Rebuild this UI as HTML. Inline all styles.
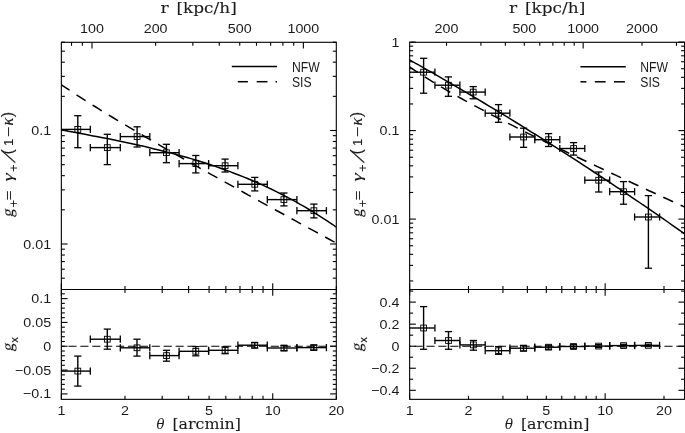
<!DOCTYPE html>
<html><head><meta charset="utf-8"><title>plot</title>
<style>html,body{margin:0;padding:0;background:#fff}svg{display:block}text{stroke:none}text.yl{stroke:#000;stroke-width:0.12px}text.tt{stroke:#000;stroke-width:0.1px}</style></head>
<body>
<svg width="685" height="433" viewBox="0 0 685 433" stroke="#000" fill="#000" font-family="'Liberation Sans', sans-serif">
<rect width="685" height="433" fill="#fff" stroke="none"/>
<g stroke="none" opacity="0.9">
<text transform="translate(61.35,415.40) scale(1.1,1)" text-anchor="middle" font-size="13">1</text>
<text transform="translate(124.98,415.40) scale(1.1,1)" text-anchor="middle" font-size="13">2</text>
<text transform="translate(209.09,415.40) scale(1.1,1)" text-anchor="middle" font-size="13">5</text>
<text transform="translate(272.72,415.40) scale(1.1,1)" text-anchor="middle" font-size="13">10</text>
<text transform="translate(336.35,415.40) scale(1.1,1)" text-anchor="middle" font-size="13">20</text>
<text transform="translate(92.00,33.20) scale(1.1,1)" text-anchor="middle" font-size="13">100</text>
<text transform="translate(155.63,33.20) scale(1.1,1)" text-anchor="middle" font-size="13">200</text>
<text transform="translate(239.74,33.20) scale(1.1,1)" text-anchor="middle" font-size="13">500</text>
<text transform="translate(303.37,33.20) scale(1.1,1)" text-anchor="middle" font-size="13">1000</text>
<text transform="translate(51.15,135.00) scale(1.1,1)" text-anchor="end" font-size="13">0.1</text>
<text transform="translate(51.15,248.50) scale(1.1,1)" text-anchor="end" font-size="13">0.01</text>
<text transform="translate(51.15,303.10) scale(1.1,1)" text-anchor="end" font-size="13">0.1</text>
<text transform="translate(51.15,326.93) scale(1.1,1)" text-anchor="end" font-size="13">0.05</text>
<text transform="translate(51.15,350.75) scale(1.1,1)" text-anchor="end" font-size="13">0</text>
<text transform="translate(51.15,374.57) scale(1.1,1)" text-anchor="end" font-size="13">−0.05</text>
<text transform="translate(51.15,398.40) scale(1.1,1)" text-anchor="end" font-size="13">−0.1</text>
<text transform="translate(409.65,415.40) scale(1.1,1)" text-anchor="middle" font-size="13">1</text>
<text transform="translate(468.50,415.40) scale(1.1,1)" text-anchor="middle" font-size="13">2</text>
<text transform="translate(546.30,415.40) scale(1.1,1)" text-anchor="middle" font-size="13">5</text>
<text transform="translate(605.15,415.40) scale(1.1,1)" text-anchor="middle" font-size="13">10</text>
<text transform="translate(664.00,415.40) scale(1.1,1)" text-anchor="middle" font-size="13">20</text>
<text transform="translate(446.50,33.20) scale(1.1,1)" text-anchor="middle" font-size="13">200</text>
<text transform="translate(524.30,33.20) scale(1.1,1)" text-anchor="middle" font-size="13">500</text>
<text transform="translate(583.15,33.20) scale(1.1,1)" text-anchor="middle" font-size="13">1000</text>
<text transform="translate(642.00,33.20) scale(1.1,1)" text-anchor="middle" font-size="13">2000</text>
<text transform="translate(399.45,46.60) scale(1.1,1)" text-anchor="end" font-size="13">1</text>
<text transform="translate(399.45,135.10) scale(1.1,1)" text-anchor="end" font-size="13">0.1</text>
<text transform="translate(399.45,223.60) scale(1.1,1)" text-anchor="end" font-size="13">0.01</text>
<text transform="translate(399.45,306.60) scale(1.1,1)" text-anchor="end" font-size="13">0.4</text>
<text transform="translate(399.45,328.65) scale(1.1,1)" text-anchor="end" font-size="13">0.2</text>
<text transform="translate(399.45,350.70) scale(1.1,1)" text-anchor="end" font-size="13">0</text>
<text transform="translate(399.45,372.75) scale(1.1,1)" text-anchor="end" font-size="13">−0.2</text>
<text transform="translate(399.45,394.80) scale(1.1,1)" text-anchor="end" font-size="13">−0.4</text>
<text transform="translate(292.00,72.10) scale(0.87,1)" text-anchor="start" font-size="14" >NFW</text>
<text transform="translate(292.00,86.80) scale(0.87,1)" text-anchor="start" font-size="14" >SIS</text>
<text transform="translate(640.30,72.10) scale(0.87,1)" text-anchor="start" font-size="14" >NFW</text>
<text transform="translate(640.30,86.90) scale(0.87,1)" text-anchor="start" font-size="14" >SIS</text>
<text class="tt" x="160.60" y="13.10" font-size="14.5" textLength="8.20" lengthAdjust="spacingAndGlyphs" font-family="'DejaVu Serif', serif">r</text>
<text class="tt" x="176.40" y="13.10" font-size="14.5" textLength="60.40" lengthAdjust="spacingAndGlyphs" font-family="'DejaVu Serif', serif">[kpc/h]</text>
<text class="tt" x="156.60" y="429.20" font-size="14.5" textLength="8.00" lengthAdjust="spacingAndGlyphs" font-family="'DejaVu Serif', serif" font-style="italic">θ</text>
<text class="tt" x="172.40" y="429.20" font-size="14.5" textLength="68.60" lengthAdjust="spacingAndGlyphs" font-family="'DejaVu Serif', serif">[arcmin]</text>
<text class="tt" x="509.10" y="13.10" font-size="14.5" textLength="8.20" lengthAdjust="spacingAndGlyphs" font-family="'DejaVu Serif', serif">r</text>
<text class="tt" x="524.90" y="13.10" font-size="14.5" textLength="60.40" lengthAdjust="spacingAndGlyphs" font-family="'DejaVu Serif', serif">[kpc/h]</text>
<text class="tt" x="505.10" y="429.20" font-size="14.5" textLength="8.00" lengthAdjust="spacingAndGlyphs" font-family="'DejaVu Serif', serif" font-style="italic">θ</text>
<text class="tt" x="520.90" y="429.20" font-size="14.5" textLength="68.60" lengthAdjust="spacingAndGlyphs" font-family="'DejaVu Serif', serif">[arcmin]</text>
<text class="yl" transform="translate(13.20,217.20) rotate(-90) skewX(-9) scale(1,1)" font-size="16" font-family="'Liberation Serif', serif">g</text>
<text class="yl" transform="translate(18.40,207.20) rotate(-90) scale(1,1)" font-size="12.5" >+</text>
<text class="yl" transform="translate(13.20,200.20) rotate(-90) scale(1.3,1)" font-size="13" >=</text>
<text class="yl" transform="translate(13.20,181.60) rotate(-90) scale(1.35,1)" font-size="15.5" font-family="'Liberation Serif', serif" font-style="italic">γ</text>
<text class="yl" transform="translate(18.40,171.80) rotate(-90) scale(1,1)" font-size="12.5" >+</text>
<text class="yl" transform="translate(15.00,163.20) rotate(-90) skewX(-30) scale(1.15,1)" font-size="17" >/</text>
<text class="yl" transform="translate(12.90,154.60) rotate(-90) scale(1,1)" font-size="16" >(</text>
<text class="yl" transform="translate(13.20,146.00) rotate(-90) scale(1,1)" font-size="13" >1</text>
<text class="yl" transform="translate(13.20,137.00) rotate(-90) scale(1.4,1)" font-size="13" >−</text>
<text class="yl" transform="translate(13.20,125.40) rotate(-90) scale(1,1)" font-size="16.5" font-family="'Liberation Serif', serif" font-style="italic">κ</text>
<text class="yl" transform="translate(12.90,117.20) rotate(-90) scale(1,1)" font-size="16" >)</text>
<text class="yl" transform="translate(13.20,351.40) rotate(-90) skewX(-9) scale(1,1)" font-size="16" font-family="'Liberation Serif', serif">g</text>
<text class="yl" transform="translate(18.20,342.40) rotate(-90) scale(1,1)" font-size="10.5" >x</text>
<text class="yl" transform="translate(361.80,217.20) rotate(-90) skewX(-9) scale(1,1)" font-size="16" font-family="'Liberation Serif', serif">g</text>
<text class="yl" transform="translate(367.00,207.20) rotate(-90) scale(1,1)" font-size="12.5" >+</text>
<text class="yl" transform="translate(361.80,200.20) rotate(-90) scale(1.3,1)" font-size="13" >=</text>
<text class="yl" transform="translate(361.80,181.60) rotate(-90) scale(1.35,1)" font-size="15.5" font-family="'Liberation Serif', serif" font-style="italic">γ</text>
<text class="yl" transform="translate(367.00,171.80) rotate(-90) scale(1,1)" font-size="12.5" >+</text>
<text class="yl" transform="translate(363.60,163.20) rotate(-90) skewX(-30) scale(1.15,1)" font-size="17" >/</text>
<text class="yl" transform="translate(361.50,154.60) rotate(-90) scale(1,1)" font-size="16" >(</text>
<text class="yl" transform="translate(361.80,146.00) rotate(-90) scale(1,1)" font-size="13" >1</text>
<text class="yl" transform="translate(361.80,137.00) rotate(-90) scale(1.4,1)" font-size="13" >−</text>
<text class="yl" transform="translate(361.80,125.40) rotate(-90) scale(1,1)" font-size="16.5" font-family="'Liberation Serif', serif" font-style="italic">κ</text>
<text class="yl" transform="translate(361.50,117.20) rotate(-90) scale(1,1)" font-size="16" >)</text>
<text class="yl" transform="translate(361.80,351.40) rotate(-90) skewX(-9) scale(1,1)" font-size="16" font-family="'Liberation Serif', serif">g</text>
<text class="yl" transform="translate(366.80,342.40) rotate(-90) scale(1,1)" font-size="10.5" >x</text>
</g>
<g id="left">
<rect x="61.35" y="42.3" width="274.95" height="357.05" fill="none" stroke-width="1.1"/>
<line x1="61.35" y1="289.50" x2="336.30" y2="289.50" stroke-width="1.1" />
<line x1="61.35" y1="399.35" x2="61.35" y2="393.15" stroke-width="1.1" />
<line x1="61.35" y1="283.30" x2="61.35" y2="295.70" stroke-width="1.1" />
<line x1="124.98" y1="399.35" x2="124.98" y2="395.85" stroke-width="1.1" />
<line x1="124.98" y1="286.00" x2="124.98" y2="293.00" stroke-width="1.1" />
<line x1="162.20" y1="399.35" x2="162.20" y2="395.85" stroke-width="1.1" />
<line x1="162.20" y1="286.00" x2="162.20" y2="293.00" stroke-width="1.1" />
<line x1="188.61" y1="399.35" x2="188.61" y2="395.85" stroke-width="1.1" />
<line x1="188.61" y1="286.00" x2="188.61" y2="293.00" stroke-width="1.1" />
<line x1="209.09" y1="399.35" x2="209.09" y2="395.85" stroke-width="1.1" />
<line x1="209.09" y1="286.00" x2="209.09" y2="293.00" stroke-width="1.1" />
<line x1="225.83" y1="399.35" x2="225.83" y2="395.85" stroke-width="1.1" />
<line x1="225.83" y1="286.00" x2="225.83" y2="293.00" stroke-width="1.1" />
<line x1="239.98" y1="399.35" x2="239.98" y2="395.85" stroke-width="1.1" />
<line x1="239.98" y1="286.00" x2="239.98" y2="293.00" stroke-width="1.1" />
<line x1="252.24" y1="399.35" x2="252.24" y2="395.85" stroke-width="1.1" />
<line x1="252.24" y1="286.00" x2="252.24" y2="293.00" stroke-width="1.1" />
<line x1="263.05" y1="399.35" x2="263.05" y2="395.85" stroke-width="1.1" />
<line x1="263.05" y1="286.00" x2="263.05" y2="293.00" stroke-width="1.1" />
<line x1="272.72" y1="399.35" x2="272.72" y2="393.15" stroke-width="1.1" />
<line x1="272.72" y1="283.30" x2="272.72" y2="295.70" stroke-width="1.1" />
<line x1="336.35" y1="399.35" x2="336.35" y2="395.85" stroke-width="1.1" />
<line x1="336.35" y1="286.00" x2="336.35" y2="293.00" stroke-width="1.1" />
<line x1="71.52" y1="42.30" x2="71.52" y2="45.80" stroke-width="1.1" />
<line x1="82.33" y1="42.30" x2="82.33" y2="45.80" stroke-width="1.1" />
<line x1="92.00" y1="42.30" x2="92.00" y2="48.50" stroke-width="1.1" />
<line x1="155.63" y1="42.30" x2="155.63" y2="45.80" stroke-width="1.1" />
<line x1="192.85" y1="42.30" x2="192.85" y2="45.80" stroke-width="1.1" />
<line x1="219.26" y1="42.30" x2="219.26" y2="45.80" stroke-width="1.1" />
<line x1="239.74" y1="42.30" x2="239.74" y2="45.80" stroke-width="1.1" />
<line x1="256.48" y1="42.30" x2="256.48" y2="45.80" stroke-width="1.1" />
<line x1="270.63" y1="42.30" x2="270.63" y2="45.80" stroke-width="1.1" />
<line x1="282.89" y1="42.30" x2="282.89" y2="45.80" stroke-width="1.1" />
<line x1="293.70" y1="42.30" x2="293.70" y2="45.80" stroke-width="1.1" />
<line x1="303.37" y1="42.30" x2="303.37" y2="48.50" stroke-width="1.1" />
<line x1="61.35" y1="278.17" x2="64.85" y2="278.17" stroke-width="1.1" />
<line x1="336.30" y1="278.17" x2="332.80" y2="278.17" stroke-width="1.1" />
<line x1="61.35" y1="269.18" x2="64.85" y2="269.18" stroke-width="1.1" />
<line x1="336.30" y1="269.18" x2="332.80" y2="269.18" stroke-width="1.1" />
<line x1="61.35" y1="261.58" x2="64.85" y2="261.58" stroke-width="1.1" />
<line x1="336.30" y1="261.58" x2="332.80" y2="261.58" stroke-width="1.1" />
<line x1="61.35" y1="255.00" x2="64.85" y2="255.00" stroke-width="1.1" />
<line x1="336.30" y1="255.00" x2="332.80" y2="255.00" stroke-width="1.1" />
<line x1="61.35" y1="249.19" x2="64.85" y2="249.19" stroke-width="1.1" />
<line x1="336.30" y1="249.19" x2="332.80" y2="249.19" stroke-width="1.1" />
<line x1="61.35" y1="244.00" x2="67.55" y2="244.00" stroke-width="1.1" />
<line x1="336.30" y1="244.00" x2="330.10" y2="244.00" stroke-width="1.1" />
<line x1="61.35" y1="209.83" x2="64.85" y2="209.83" stroke-width="1.1" />
<line x1="336.30" y1="209.83" x2="332.80" y2="209.83" stroke-width="1.1" />
<line x1="61.35" y1="189.85" x2="64.85" y2="189.85" stroke-width="1.1" />
<line x1="336.30" y1="189.85" x2="332.80" y2="189.85" stroke-width="1.1" />
<line x1="61.35" y1="175.67" x2="64.85" y2="175.67" stroke-width="1.1" />
<line x1="336.30" y1="175.67" x2="332.80" y2="175.67" stroke-width="1.1" />
<line x1="61.35" y1="164.67" x2="64.85" y2="164.67" stroke-width="1.1" />
<line x1="336.30" y1="164.67" x2="332.80" y2="164.67" stroke-width="1.1" />
<line x1="61.35" y1="155.68" x2="64.85" y2="155.68" stroke-width="1.1" />
<line x1="336.30" y1="155.68" x2="332.80" y2="155.68" stroke-width="1.1" />
<line x1="61.35" y1="148.08" x2="64.85" y2="148.08" stroke-width="1.1" />
<line x1="336.30" y1="148.08" x2="332.80" y2="148.08" stroke-width="1.1" />
<line x1="61.35" y1="141.50" x2="64.85" y2="141.50" stroke-width="1.1" />
<line x1="336.30" y1="141.50" x2="332.80" y2="141.50" stroke-width="1.1" />
<line x1="61.35" y1="135.69" x2="64.85" y2="135.69" stroke-width="1.1" />
<line x1="336.30" y1="135.69" x2="332.80" y2="135.69" stroke-width="1.1" />
<line x1="61.35" y1="130.50" x2="67.55" y2="130.50" stroke-width="1.1" />
<line x1="336.30" y1="130.50" x2="330.10" y2="130.50" stroke-width="1.1" />
<line x1="61.35" y1="96.33" x2="64.85" y2="96.33" stroke-width="1.1" />
<line x1="336.30" y1="96.33" x2="332.80" y2="96.33" stroke-width="1.1" />
<line x1="61.35" y1="76.35" x2="64.85" y2="76.35" stroke-width="1.1" />
<line x1="336.30" y1="76.35" x2="332.80" y2="76.35" stroke-width="1.1" />
<line x1="61.35" y1="62.17" x2="64.85" y2="62.17" stroke-width="1.1" />
<line x1="336.30" y1="62.17" x2="332.80" y2="62.17" stroke-width="1.1" />
<line x1="61.35" y1="51.17" x2="64.85" y2="51.17" stroke-width="1.1" />
<line x1="336.30" y1="51.17" x2="332.80" y2="51.17" stroke-width="1.1" />
<line x1="61.35" y1="42.18" x2="64.85" y2="42.18" stroke-width="1.1" />
<line x1="336.30" y1="42.18" x2="332.80" y2="42.18" stroke-width="1.1" />
<line x1="61.35" y1="393.90" x2="67.55" y2="393.90" stroke-width="1.1" />
<line x1="336.30" y1="393.90" x2="330.10" y2="393.90" stroke-width="1.1" />
<line x1="61.35" y1="389.13" x2="64.85" y2="389.13" stroke-width="1.1" />
<line x1="336.30" y1="389.13" x2="332.80" y2="389.13" stroke-width="1.1" />
<line x1="61.35" y1="384.37" x2="64.85" y2="384.37" stroke-width="1.1" />
<line x1="336.30" y1="384.37" x2="332.80" y2="384.37" stroke-width="1.1" />
<line x1="61.35" y1="379.61" x2="64.85" y2="379.61" stroke-width="1.1" />
<line x1="336.30" y1="379.61" x2="332.80" y2="379.61" stroke-width="1.1" />
<line x1="61.35" y1="374.84" x2="64.85" y2="374.84" stroke-width="1.1" />
<line x1="336.30" y1="374.84" x2="332.80" y2="374.84" stroke-width="1.1" />
<line x1="61.35" y1="370.07" x2="67.55" y2="370.07" stroke-width="1.1" />
<line x1="336.30" y1="370.07" x2="330.10" y2="370.07" stroke-width="1.1" />
<line x1="61.35" y1="365.31" x2="64.85" y2="365.31" stroke-width="1.1" />
<line x1="336.30" y1="365.31" x2="332.80" y2="365.31" stroke-width="1.1" />
<line x1="61.35" y1="360.55" x2="64.85" y2="360.55" stroke-width="1.1" />
<line x1="336.30" y1="360.55" x2="332.80" y2="360.55" stroke-width="1.1" />
<line x1="61.35" y1="355.78" x2="64.85" y2="355.78" stroke-width="1.1" />
<line x1="336.30" y1="355.78" x2="332.80" y2="355.78" stroke-width="1.1" />
<line x1="61.35" y1="351.01" x2="64.85" y2="351.01" stroke-width="1.1" />
<line x1="336.30" y1="351.01" x2="332.80" y2="351.01" stroke-width="1.1" />
<line x1="61.35" y1="346.25" x2="67.55" y2="346.25" stroke-width="1.1" />
<line x1="336.30" y1="346.25" x2="330.10" y2="346.25" stroke-width="1.1" />
<line x1="61.35" y1="341.49" x2="64.85" y2="341.49" stroke-width="1.1" />
<line x1="336.30" y1="341.49" x2="332.80" y2="341.49" stroke-width="1.1" />
<line x1="61.35" y1="336.72" x2="64.85" y2="336.72" stroke-width="1.1" />
<line x1="336.30" y1="336.72" x2="332.80" y2="336.72" stroke-width="1.1" />
<line x1="61.35" y1="331.95" x2="64.85" y2="331.95" stroke-width="1.1" />
<line x1="336.30" y1="331.95" x2="332.80" y2="331.95" stroke-width="1.1" />
<line x1="61.35" y1="327.19" x2="64.85" y2="327.19" stroke-width="1.1" />
<line x1="336.30" y1="327.19" x2="332.80" y2="327.19" stroke-width="1.1" />
<line x1="61.35" y1="322.43" x2="67.55" y2="322.43" stroke-width="1.1" />
<line x1="336.30" y1="322.43" x2="330.10" y2="322.43" stroke-width="1.1" />
<line x1="61.35" y1="317.66" x2="64.85" y2="317.66" stroke-width="1.1" />
<line x1="336.30" y1="317.66" x2="332.80" y2="317.66" stroke-width="1.1" />
<line x1="61.35" y1="312.89" x2="64.85" y2="312.89" stroke-width="1.1" />
<line x1="336.30" y1="312.89" x2="332.80" y2="312.89" stroke-width="1.1" />
<line x1="61.35" y1="308.13" x2="64.85" y2="308.13" stroke-width="1.1" />
<line x1="336.30" y1="308.13" x2="332.80" y2="308.13" stroke-width="1.1" />
<line x1="61.35" y1="303.37" x2="64.85" y2="303.37" stroke-width="1.1" />
<line x1="336.30" y1="303.37" x2="332.80" y2="303.37" stroke-width="1.1" />
<line x1="61.35" y1="298.60" x2="67.55" y2="298.60" stroke-width="1.1" />
<line x1="336.30" y1="298.60" x2="330.10" y2="298.60" stroke-width="1.1" />
<line x1="61.35" y1="293.83" x2="64.85" y2="293.83" stroke-width="1.1" />
<line x1="336.30" y1="293.83" x2="332.80" y2="293.83" stroke-width="1.1" />
</g>
<clipPath id="cl"><rect x="61.35" y="42.3" width="274.95" height="357.05"/></clipPath>
<g clip-path="url(#cl)" fill="none">
<polyline stroke-width="1.5" points="60.4,129.7 65.0,130.6 69.7,131.4 74.4,132.3 79.1,133.2 83.8,134.1 88.5,135.0 93.2,135.9 97.9,136.8 102.6,137.7 107.3,138.6 112.0,139.6 116.7,140.5 121.4,141.5 126.1,142.5 130.8,143.5 135.5,144.5 140.1,145.6 144.8,146.6 149.5,147.7 154.2,148.9 158.9,150.0 163.6,151.2 168.3,152.4 173.0,153.6 177.7,154.9 182.4,156.2 187.1,157.5 191.8,158.9 196.5,160.3 201.2,161.8 205.9,163.3 210.6,164.8 215.3,166.4 219.9,168.0 224.6,169.7 229.3,171.4 234.0,173.2 238.7,175.0 243.4,176.9 248.1,178.8 252.8,180.8 257.5,182.8 262.2,184.9 266.9,187.1 271.6,189.3 276.3,191.6 281.0,194.0 285.7,196.4 290.4,198.9 295.1,201.4 299.7,204.1 304.4,206.7 309.1,209.5 313.8,212.4 318.5,215.3 323.2,218.3 327.9,221.4 332.6,224.5 337.3,227.8"/>
<polyline stroke-width="1.5" stroke-dasharray="10.8 8.3" stroke-dashoffset="1" points="61.4,84.8 66.0,87.9 70.7,91.0 75.4,94.1 80.1,97.1 84.7,100.1 89.4,103.1 94.1,106.0 98.8,108.9 103.4,111.8 108.1,114.7 112.8,117.5 117.5,120.3 122.2,123.2 126.8,125.9 131.5,128.7 136.2,131.5 140.9,134.2 145.5,137.0 150.2,139.7 154.9,142.4 159.6,145.1 164.2,147.8 168.9,150.5 173.6,153.2 178.3,155.8 183.0,158.5 187.6,161.1 192.3,163.8 197.0,166.4 201.7,169.1 206.3,171.7 211.0,174.3 215.7,176.9 220.4,179.5 225.0,182.1 229.7,184.7 234.4,187.3 239.1,189.9 243.8,192.5 248.4,195.1 253.1,197.6 257.8,200.2 262.5,202.8 267.1,205.4 271.8,207.9 276.5,210.5 281.2,213.0 285.9,215.6 290.5,218.2 295.2,220.7 299.9,223.3 304.6,225.8 309.2,228.4 313.9,230.9 318.6,233.4 323.3,236.0 327.9,238.5 332.6,241.1 337.3,243.6"/>
<line x1="61.35" y1="346.3" x2="336.3" y2="346.3" stroke-width="1.1" stroke-dasharray="8.1 3.8" stroke-dashoffset="4.8"/>
</g>
<line x1="61.35" y1="129.40" x2="90.30" y2="129.40" stroke-width="1.4" />
<line x1="90.30" y1="125.80" x2="90.30" y2="133.00" stroke-width="1.3" />
<line x1="77.80" y1="115.70" x2="77.80" y2="147.70" stroke-width="1.4" />
<line x1="74.20" y1="115.70" x2="81.40" y2="115.70" stroke-width="1.3" />
<line x1="74.20" y1="147.70" x2="81.40" y2="147.70" stroke-width="1.3" />
<rect x="74.90" y="126.50" width="5.8" height="5.8" fill="none" stroke-width="0.9"/>
<line x1="90.30" y1="147.60" x2="120.30" y2="147.60" stroke-width="1.4" />
<line x1="90.30" y1="144.00" x2="90.30" y2="151.20" stroke-width="1.3" />
<line x1="120.30" y1="144.00" x2="120.30" y2="151.20" stroke-width="1.3" />
<line x1="107.30" y1="134.30" x2="107.30" y2="164.60" stroke-width="1.4" />
<line x1="103.70" y1="134.30" x2="110.90" y2="134.30" stroke-width="1.3" />
<line x1="103.70" y1="164.60" x2="110.90" y2="164.60" stroke-width="1.3" />
<rect x="104.40" y="144.70" width="5.8" height="5.8" fill="none" stroke-width="0.9"/>
<line x1="120.30" y1="136.60" x2="149.80" y2="136.60" stroke-width="1.4" />
<line x1="120.30" y1="133.00" x2="120.30" y2="140.20" stroke-width="1.3" />
<line x1="149.80" y1="133.00" x2="149.80" y2="140.20" stroke-width="1.3" />
<line x1="137.10" y1="126.80" x2="137.10" y2="147.00" stroke-width="1.4" />
<line x1="133.50" y1="126.80" x2="140.70" y2="126.80" stroke-width="1.3" />
<line x1="133.50" y1="147.00" x2="140.70" y2="147.00" stroke-width="1.3" />
<rect x="134.20" y="133.70" width="5.8" height="5.8" fill="none" stroke-width="0.9"/>
<line x1="149.80" y1="152.70" x2="179.10" y2="152.70" stroke-width="1.4" />
<line x1="149.80" y1="149.10" x2="149.80" y2="156.30" stroke-width="1.3" />
<line x1="179.10" y1="149.10" x2="179.10" y2="156.30" stroke-width="1.3" />
<line x1="166.40" y1="144.30" x2="166.40" y2="162.70" stroke-width="1.4" />
<line x1="162.80" y1="144.30" x2="170.00" y2="144.30" stroke-width="1.3" />
<line x1="162.80" y1="162.70" x2="170.00" y2="162.70" stroke-width="1.3" />
<rect x="163.50" y="149.80" width="5.8" height="5.8" fill="none" stroke-width="0.9"/>
<line x1="179.10" y1="163.60" x2="208.60" y2="163.60" stroke-width="1.4" />
<line x1="179.10" y1="160.00" x2="179.10" y2="167.20" stroke-width="1.3" />
<line x1="208.60" y1="160.00" x2="208.60" y2="167.20" stroke-width="1.3" />
<line x1="195.80" y1="155.50" x2="195.80" y2="172.90" stroke-width="1.4" />
<line x1="192.20" y1="155.50" x2="199.40" y2="155.50" stroke-width="1.3" />
<line x1="192.20" y1="172.90" x2="199.40" y2="172.90" stroke-width="1.3" />
<rect x="192.90" y="160.70" width="5.8" height="5.8" fill="none" stroke-width="0.9"/>
<line x1="208.60" y1="165.70" x2="237.90" y2="165.70" stroke-width="1.4" />
<line x1="208.60" y1="162.10" x2="208.60" y2="169.30" stroke-width="1.3" />
<line x1="237.90" y1="162.10" x2="237.90" y2="169.30" stroke-width="1.3" />
<line x1="225.10" y1="159.10" x2="225.10" y2="172.00" stroke-width="1.4" />
<line x1="221.50" y1="159.10" x2="228.70" y2="159.10" stroke-width="1.3" />
<line x1="221.50" y1="172.00" x2="228.70" y2="172.00" stroke-width="1.3" />
<rect x="222.20" y="162.80" width="5.8" height="5.8" fill="none" stroke-width="0.9"/>
<line x1="237.90" y1="184.30" x2="267.30" y2="184.30" stroke-width="1.4" />
<line x1="237.90" y1="180.70" x2="237.90" y2="187.90" stroke-width="1.3" />
<line x1="267.30" y1="180.70" x2="267.30" y2="187.90" stroke-width="1.3" />
<line x1="254.80" y1="177.40" x2="254.80" y2="190.90" stroke-width="1.4" />
<line x1="251.20" y1="177.40" x2="258.40" y2="177.40" stroke-width="1.3" />
<line x1="251.20" y1="190.90" x2="258.40" y2="190.90" stroke-width="1.3" />
<rect x="251.90" y="181.40" width="5.8" height="5.8" fill="none" stroke-width="0.9"/>
<line x1="267.30" y1="199.60" x2="296.90" y2="199.60" stroke-width="1.4" />
<line x1="267.30" y1="196.00" x2="267.30" y2="203.20" stroke-width="1.3" />
<line x1="296.90" y1="196.00" x2="296.90" y2="203.20" stroke-width="1.3" />
<line x1="283.90" y1="193.00" x2="283.90" y2="205.90" stroke-width="1.4" />
<line x1="280.30" y1="193.00" x2="287.50" y2="193.00" stroke-width="1.3" />
<line x1="280.30" y1="205.90" x2="287.50" y2="205.90" stroke-width="1.3" />
<rect x="281.00" y="196.70" width="5.8" height="5.8" fill="none" stroke-width="0.9"/>
<line x1="296.90" y1="210.70" x2="326.40" y2="210.70" stroke-width="1.4" />
<line x1="296.90" y1="207.10" x2="296.90" y2="214.30" stroke-width="1.3" />
<line x1="326.40" y1="207.10" x2="326.40" y2="214.30" stroke-width="1.3" />
<line x1="313.90" y1="204.10" x2="313.90" y2="217.90" stroke-width="1.4" />
<line x1="310.30" y1="204.10" x2="317.50" y2="204.10" stroke-width="1.3" />
<line x1="310.30" y1="217.90" x2="317.50" y2="217.90" stroke-width="1.3" />
<rect x="311.00" y="207.80" width="5.8" height="5.8" fill="none" stroke-width="0.9"/>
<line x1="61.35" y1="371.10" x2="90.30" y2="371.10" stroke-width="1.4" />
<line x1="90.30" y1="367.50" x2="90.30" y2="374.70" stroke-width="1.3" />
<line x1="77.80" y1="356.10" x2="77.80" y2="386.10" stroke-width="1.4" />
<line x1="74.20" y1="356.10" x2="81.40" y2="356.10" stroke-width="1.3" />
<line x1="74.20" y1="386.10" x2="81.40" y2="386.10" stroke-width="1.3" />
<rect x="74.90" y="368.20" width="5.8" height="5.8" fill="none" stroke-width="0.9"/>
<line x1="90.30" y1="339.20" x2="120.30" y2="339.20" stroke-width="1.4" />
<line x1="90.30" y1="335.60" x2="90.30" y2="342.80" stroke-width="1.3" />
<line x1="120.30" y1="335.60" x2="120.30" y2="342.80" stroke-width="1.3" />
<line x1="107.30" y1="329.10" x2="107.30" y2="349.20" stroke-width="1.4" />
<line x1="103.70" y1="329.10" x2="110.90" y2="329.10" stroke-width="1.3" />
<line x1="103.70" y1="349.20" x2="110.90" y2="349.20" stroke-width="1.3" />
<rect x="104.40" y="336.30" width="5.8" height="5.8" fill="none" stroke-width="0.9"/>
<line x1="120.30" y1="347.80" x2="149.80" y2="347.80" stroke-width="1.4" />
<line x1="120.30" y1="344.20" x2="120.30" y2="351.40" stroke-width="1.3" />
<line x1="149.80" y1="344.20" x2="149.80" y2="351.40" stroke-width="1.3" />
<line x1="137.00" y1="339.20" x2="137.00" y2="356.10" stroke-width="1.4" />
<line x1="133.40" y1="339.20" x2="140.60" y2="339.20" stroke-width="1.3" />
<line x1="133.40" y1="356.10" x2="140.60" y2="356.10" stroke-width="1.3" />
<rect x="134.10" y="344.90" width="5.8" height="5.8" fill="none" stroke-width="0.9"/>
<line x1="149.80" y1="355.60" x2="179.10" y2="355.60" stroke-width="1.4" />
<line x1="149.80" y1="352.00" x2="149.80" y2="359.20" stroke-width="1.3" />
<line x1="179.10" y1="352.00" x2="179.10" y2="359.20" stroke-width="1.3" />
<line x1="166.50" y1="350.30" x2="166.50" y2="361.20" stroke-width="1.4" />
<line x1="162.90" y1="350.30" x2="170.10" y2="350.30" stroke-width="1.3" />
<line x1="162.90" y1="361.20" x2="170.10" y2="361.20" stroke-width="1.3" />
<rect x="163.60" y="352.70" width="5.8" height="5.8" fill="none" stroke-width="0.9"/>
<line x1="179.10" y1="351.30" x2="208.60" y2="351.30" stroke-width="1.4" />
<line x1="179.10" y1="347.70" x2="179.10" y2="354.90" stroke-width="1.3" />
<line x1="208.60" y1="347.70" x2="208.60" y2="354.90" stroke-width="1.3" />
<line x1="195.80" y1="346.60" x2="195.80" y2="355.80" stroke-width="1.4" />
<line x1="192.20" y1="346.60" x2="199.40" y2="346.60" stroke-width="1.3" />
<line x1="192.20" y1="355.80" x2="199.40" y2="355.80" stroke-width="1.3" />
<rect x="192.90" y="348.40" width="5.8" height="5.8" fill="none" stroke-width="0.9"/>
<line x1="208.60" y1="350.30" x2="237.90" y2="350.30" stroke-width="1.4" />
<line x1="208.60" y1="346.70" x2="208.60" y2="353.90" stroke-width="1.3" />
<line x1="237.90" y1="346.70" x2="237.90" y2="353.90" stroke-width="1.3" />
<line x1="225.10" y1="346.90" x2="225.10" y2="353.70" stroke-width="1.4" />
<line x1="221.50" y1="346.90" x2="228.70" y2="346.90" stroke-width="1.3" />
<line x1="221.50" y1="353.70" x2="228.70" y2="353.70" stroke-width="1.3" />
<rect x="222.20" y="347.40" width="5.8" height="5.8" fill="none" stroke-width="0.9"/>
<line x1="237.90" y1="345.20" x2="267.30" y2="345.20" stroke-width="1.4" />
<line x1="237.90" y1="341.60" x2="237.90" y2="348.80" stroke-width="1.3" />
<line x1="267.30" y1="341.60" x2="267.30" y2="348.80" stroke-width="1.3" />
<line x1="254.70" y1="342.60" x2="254.70" y2="348.00" stroke-width="1.4" />
<line x1="251.10" y1="342.60" x2="258.30" y2="342.60" stroke-width="1.3" />
<line x1="251.10" y1="348.00" x2="258.30" y2="348.00" stroke-width="1.3" />
<rect x="251.80" y="342.30" width="5.8" height="5.8" fill="none" stroke-width="0.9"/>
<line x1="267.30" y1="348.00" x2="296.90" y2="348.00" stroke-width="1.4" />
<line x1="267.30" y1="344.40" x2="267.30" y2="351.60" stroke-width="1.3" />
<line x1="296.90" y1="344.40" x2="296.90" y2="351.60" stroke-width="1.3" />
<line x1="284.00" y1="345.60" x2="284.00" y2="350.70" stroke-width="1.4" />
<line x1="280.40" y1="345.60" x2="287.60" y2="345.60" stroke-width="1.3" />
<line x1="280.40" y1="350.70" x2="287.60" y2="350.70" stroke-width="1.3" />
<rect x="281.10" y="345.10" width="5.8" height="5.8" fill="none" stroke-width="0.9"/>
<line x1="296.90" y1="347.60" x2="326.40" y2="347.60" stroke-width="1.4" />
<line x1="296.90" y1="344.00" x2="296.90" y2="351.20" stroke-width="1.3" />
<line x1="326.40" y1="344.00" x2="326.40" y2="351.20" stroke-width="1.3" />
<line x1="313.80" y1="345.20" x2="313.80" y2="350.00" stroke-width="1.4" />
<line x1="310.20" y1="345.20" x2="317.40" y2="345.20" stroke-width="1.3" />
<line x1="310.20" y1="350.00" x2="317.40" y2="350.00" stroke-width="1.3" />
<rect x="310.90" y="344.70" width="5.8" height="5.8" fill="none" stroke-width="0.9"/>
<line x1="231.80" y1="66.60" x2="277.00" y2="66.60" stroke-width="1.5" />
<line x1="237.80" y1="81.70" x2="247.90" y2="81.70" stroke-width="1.5" />
<line x1="256.70" y1="81.70" x2="267.50" y2="81.70" stroke-width="1.5" />
<line x1="275.50" y1="81.70" x2="277.00" y2="81.70" stroke-width="1.5" />
<g id="right">
<rect x="409.65" y="42.3" width="274.95" height="357.05" fill="none" stroke-width="1.1"/>
<line x1="409.65" y1="289.50" x2="684.60" y2="289.50" stroke-width="1.1" />
<line x1="409.65" y1="399.35" x2="409.65" y2="393.15" stroke-width="1.1" />
<line x1="409.65" y1="283.30" x2="409.65" y2="295.70" stroke-width="1.1" />
<line x1="468.50" y1="399.35" x2="468.50" y2="395.85" stroke-width="1.1" />
<line x1="468.50" y1="286.00" x2="468.50" y2="293.00" stroke-width="1.1" />
<line x1="502.93" y1="399.35" x2="502.93" y2="395.85" stroke-width="1.1" />
<line x1="502.93" y1="286.00" x2="502.93" y2="293.00" stroke-width="1.1" />
<line x1="527.35" y1="399.35" x2="527.35" y2="395.85" stroke-width="1.1" />
<line x1="527.35" y1="286.00" x2="527.35" y2="293.00" stroke-width="1.1" />
<line x1="546.30" y1="399.35" x2="546.30" y2="395.85" stroke-width="1.1" />
<line x1="546.30" y1="286.00" x2="546.30" y2="293.00" stroke-width="1.1" />
<line x1="561.78" y1="399.35" x2="561.78" y2="395.85" stroke-width="1.1" />
<line x1="561.78" y1="286.00" x2="561.78" y2="293.00" stroke-width="1.1" />
<line x1="574.87" y1="399.35" x2="574.87" y2="395.85" stroke-width="1.1" />
<line x1="574.87" y1="286.00" x2="574.87" y2="293.00" stroke-width="1.1" />
<line x1="586.20" y1="399.35" x2="586.20" y2="395.85" stroke-width="1.1" />
<line x1="586.20" y1="286.00" x2="586.20" y2="293.00" stroke-width="1.1" />
<line x1="596.20" y1="399.35" x2="596.20" y2="395.85" stroke-width="1.1" />
<line x1="596.20" y1="286.00" x2="596.20" y2="293.00" stroke-width="1.1" />
<line x1="605.15" y1="399.35" x2="605.15" y2="393.15" stroke-width="1.1" />
<line x1="605.15" y1="283.30" x2="605.15" y2="295.70" stroke-width="1.1" />
<line x1="664.00" y1="399.35" x2="664.00" y2="395.85" stroke-width="1.1" />
<line x1="664.00" y1="286.00" x2="664.00" y2="293.00" stroke-width="1.1" />
<line x1="446.50" y1="42.30" x2="446.50" y2="45.80" stroke-width="1.1" />
<line x1="480.93" y1="42.30" x2="480.93" y2="45.80" stroke-width="1.1" />
<line x1="505.35" y1="42.30" x2="505.35" y2="45.80" stroke-width="1.1" />
<line x1="524.30" y1="42.30" x2="524.30" y2="45.80" stroke-width="1.1" />
<line x1="539.78" y1="42.30" x2="539.78" y2="45.80" stroke-width="1.1" />
<line x1="552.87" y1="42.30" x2="552.87" y2="45.80" stroke-width="1.1" />
<line x1="564.20" y1="42.30" x2="564.20" y2="45.80" stroke-width="1.1" />
<line x1="574.20" y1="42.30" x2="574.20" y2="45.80" stroke-width="1.1" />
<line x1="583.15" y1="42.30" x2="583.15" y2="48.50" stroke-width="1.1" />
<line x1="642.00" y1="42.30" x2="642.00" y2="45.80" stroke-width="1.1" />
<line x1="676.43" y1="42.30" x2="676.43" y2="45.80" stroke-width="1.1" />
<line x1="409.65" y1="280.96" x2="413.15" y2="280.96" stroke-width="1.1" />
<line x1="684.60" y1="280.96" x2="681.10" y2="280.96" stroke-width="1.1" />
<line x1="409.65" y1="265.37" x2="413.15" y2="265.37" stroke-width="1.1" />
<line x1="684.60" y1="265.37" x2="681.10" y2="265.37" stroke-width="1.1" />
<line x1="409.65" y1="254.32" x2="413.15" y2="254.32" stroke-width="1.1" />
<line x1="684.60" y1="254.32" x2="681.10" y2="254.32" stroke-width="1.1" />
<line x1="409.65" y1="245.74" x2="413.15" y2="245.74" stroke-width="1.1" />
<line x1="684.60" y1="245.74" x2="681.10" y2="245.74" stroke-width="1.1" />
<line x1="409.65" y1="238.73" x2="413.15" y2="238.73" stroke-width="1.1" />
<line x1="684.60" y1="238.73" x2="681.10" y2="238.73" stroke-width="1.1" />
<line x1="409.65" y1="232.81" x2="413.15" y2="232.81" stroke-width="1.1" />
<line x1="684.60" y1="232.81" x2="681.10" y2="232.81" stroke-width="1.1" />
<line x1="409.65" y1="227.68" x2="413.15" y2="227.68" stroke-width="1.1" />
<line x1="684.60" y1="227.68" x2="681.10" y2="227.68" stroke-width="1.1" />
<line x1="409.65" y1="223.15" x2="413.15" y2="223.15" stroke-width="1.1" />
<line x1="684.60" y1="223.15" x2="681.10" y2="223.15" stroke-width="1.1" />
<line x1="409.65" y1="219.10" x2="415.85" y2="219.10" stroke-width="1.1" />
<line x1="684.60" y1="219.10" x2="678.40" y2="219.10" stroke-width="1.1" />
<line x1="409.65" y1="192.46" x2="413.15" y2="192.46" stroke-width="1.1" />
<line x1="684.60" y1="192.46" x2="681.10" y2="192.46" stroke-width="1.1" />
<line x1="409.65" y1="176.87" x2="413.15" y2="176.87" stroke-width="1.1" />
<line x1="684.60" y1="176.87" x2="681.10" y2="176.87" stroke-width="1.1" />
<line x1="409.65" y1="165.82" x2="413.15" y2="165.82" stroke-width="1.1" />
<line x1="684.60" y1="165.82" x2="681.10" y2="165.82" stroke-width="1.1" />
<line x1="409.65" y1="157.24" x2="413.15" y2="157.24" stroke-width="1.1" />
<line x1="684.60" y1="157.24" x2="681.10" y2="157.24" stroke-width="1.1" />
<line x1="409.65" y1="150.23" x2="413.15" y2="150.23" stroke-width="1.1" />
<line x1="684.60" y1="150.23" x2="681.10" y2="150.23" stroke-width="1.1" />
<line x1="409.65" y1="144.31" x2="413.15" y2="144.31" stroke-width="1.1" />
<line x1="684.60" y1="144.31" x2="681.10" y2="144.31" stroke-width="1.1" />
<line x1="409.65" y1="139.18" x2="413.15" y2="139.18" stroke-width="1.1" />
<line x1="684.60" y1="139.18" x2="681.10" y2="139.18" stroke-width="1.1" />
<line x1="409.65" y1="134.65" x2="413.15" y2="134.65" stroke-width="1.1" />
<line x1="684.60" y1="134.65" x2="681.10" y2="134.65" stroke-width="1.1" />
<line x1="409.65" y1="130.60" x2="415.85" y2="130.60" stroke-width="1.1" />
<line x1="684.60" y1="130.60" x2="678.40" y2="130.60" stroke-width="1.1" />
<line x1="409.65" y1="103.96" x2="413.15" y2="103.96" stroke-width="1.1" />
<line x1="684.60" y1="103.96" x2="681.10" y2="103.96" stroke-width="1.1" />
<line x1="409.65" y1="88.37" x2="413.15" y2="88.37" stroke-width="1.1" />
<line x1="684.60" y1="88.37" x2="681.10" y2="88.37" stroke-width="1.1" />
<line x1="409.65" y1="77.32" x2="413.15" y2="77.32" stroke-width="1.1" />
<line x1="684.60" y1="77.32" x2="681.10" y2="77.32" stroke-width="1.1" />
<line x1="409.65" y1="68.74" x2="413.15" y2="68.74" stroke-width="1.1" />
<line x1="684.60" y1="68.74" x2="681.10" y2="68.74" stroke-width="1.1" />
<line x1="409.65" y1="61.73" x2="413.15" y2="61.73" stroke-width="1.1" />
<line x1="684.60" y1="61.73" x2="681.10" y2="61.73" stroke-width="1.1" />
<line x1="409.65" y1="55.81" x2="413.15" y2="55.81" stroke-width="1.1" />
<line x1="684.60" y1="55.81" x2="681.10" y2="55.81" stroke-width="1.1" />
<line x1="409.65" y1="50.68" x2="413.15" y2="50.68" stroke-width="1.1" />
<line x1="684.60" y1="50.68" x2="681.10" y2="50.68" stroke-width="1.1" />
<line x1="409.65" y1="46.15" x2="413.15" y2="46.15" stroke-width="1.1" />
<line x1="684.60" y1="46.15" x2="681.10" y2="46.15" stroke-width="1.1" />
<line x1="409.65" y1="42.10" x2="415.85" y2="42.10" stroke-width="1.1" />
<line x1="684.60" y1="42.10" x2="678.40" y2="42.10" stroke-width="1.1" />
<line x1="409.65" y1="390.30" x2="415.85" y2="390.30" stroke-width="1.1" />
<line x1="684.60" y1="390.30" x2="678.40" y2="390.30" stroke-width="1.1" />
<line x1="409.65" y1="379.27" x2="413.15" y2="379.27" stroke-width="1.1" />
<line x1="684.60" y1="379.27" x2="681.10" y2="379.27" stroke-width="1.1" />
<line x1="409.65" y1="368.25" x2="415.85" y2="368.25" stroke-width="1.1" />
<line x1="684.60" y1="368.25" x2="678.40" y2="368.25" stroke-width="1.1" />
<line x1="409.65" y1="357.22" x2="413.15" y2="357.22" stroke-width="1.1" />
<line x1="684.60" y1="357.22" x2="681.10" y2="357.22" stroke-width="1.1" />
<line x1="409.65" y1="346.20" x2="415.85" y2="346.20" stroke-width="1.1" />
<line x1="684.60" y1="346.20" x2="678.40" y2="346.20" stroke-width="1.1" />
<line x1="409.65" y1="335.18" x2="413.15" y2="335.18" stroke-width="1.1" />
<line x1="684.60" y1="335.18" x2="681.10" y2="335.18" stroke-width="1.1" />
<line x1="409.65" y1="324.15" x2="415.85" y2="324.15" stroke-width="1.1" />
<line x1="684.60" y1="324.15" x2="678.40" y2="324.15" stroke-width="1.1" />
<line x1="409.65" y1="313.12" x2="413.15" y2="313.12" stroke-width="1.1" />
<line x1="684.60" y1="313.12" x2="681.10" y2="313.12" stroke-width="1.1" />
<line x1="409.65" y1="302.10" x2="415.85" y2="302.10" stroke-width="1.1" />
<line x1="684.60" y1="302.10" x2="678.40" y2="302.10" stroke-width="1.1" />
<line x1="409.65" y1="291.07" x2="413.15" y2="291.07" stroke-width="1.1" />
<line x1="684.60" y1="291.07" x2="681.10" y2="291.07" stroke-width="1.1" />
</g>
<clipPath id="cr"><rect x="409.65" y="42.3" width="274.95000000000005" height="357.05"/></clipPath>
<g clip-path="url(#cr)" fill="none">
<polyline stroke-width="1.5" points="408.6,59.5 413.4,62.1 418.1,64.7 422.8,67.4 427.5,70.1 432.2,72.7 436.9,75.4 441.6,78.1 446.3,80.9 451.0,83.6 455.8,86.3 460.5,89.1 465.2,91.8 469.9,94.6 474.6,97.4 479.3,100.2 484.0,103.0 488.7,105.8 493.4,108.7 498.2,111.5 502.9,114.4 507.6,117.2 512.3,120.1 517.0,123.0 521.7,125.9 526.4,128.8 531.1,131.8 535.8,134.7 540.6,137.7 545.3,140.6 550.0,143.6 554.7,146.6 559.4,149.6 564.1,152.6 568.8,155.6 573.5,158.7 578.2,161.7 583.0,164.8 587.7,167.9 592.4,171.0 597.1,174.1 601.8,177.2 606.5,180.3 611.2,183.4 615.9,186.6 620.6,189.7 625.4,192.9 630.1,196.1 634.8,199.3 639.5,202.5 644.2,205.7 648.9,208.9 653.6,212.2 658.3,215.4 663.0,218.7 667.8,222.0 672.5,225.3 677.2,228.6 681.9,231.9 686.6,235.2"/>
<polyline stroke-width="1.5" stroke-dasharray="10.8 8.3" stroke-dashoffset="1" points="409.6,66.9 414.3,70.1 419.0,73.2 423.7,76.2 428.4,79.2 433.1,82.1 437.8,85.0 442.5,87.7 447.2,90.5 451.9,93.2 456.6,95.9 461.3,98.5 466.0,101.1 470.7,103.7 475.4,106.2 480.1,108.7 484.8,111.2 489.4,113.7 494.1,116.1 498.8,118.5 503.5,121.0 508.2,123.3 512.9,125.7 517.6,128.1 522.3,130.4 527.0,132.8 531.7,135.1 536.4,137.4 541.1,139.7 545.8,142.0 550.5,144.2 555.2,146.5 559.9,148.8 564.6,151.0 569.2,153.3 573.9,155.5 578.6,157.7 583.3,160.0 588.0,162.2 592.7,164.4 597.4,166.6 602.1,168.8 606.8,171.0 611.5,173.2 616.2,175.4 620.9,177.6 625.6,179.8 630.3,182.0 635.0,184.2 639.7,186.3 644.4,188.5 649.0,190.7 653.7,192.8 658.4,195.0 663.1,197.2 667.8,199.3 672.5,201.5 677.2,203.7 681.9,205.8 686.6,208.0"/>
<line x1="409.65" y1="346.2" x2="686.6" y2="346.2" stroke-width="1.1" stroke-dasharray="8.1 3.8" stroke-dashoffset="7.0"/>
</g>
<line x1="409.90" y1="72.20" x2="434.90" y2="72.20" stroke-width="1.4" />
<line x1="434.90" y1="68.60" x2="434.90" y2="75.80" stroke-width="1.3" />
<line x1="423.60" y1="58.30" x2="423.60" y2="93.20" stroke-width="1.4" />
<line x1="420.00" y1="58.30" x2="427.20" y2="58.30" stroke-width="1.3" />
<line x1="420.00" y1="93.20" x2="427.20" y2="93.20" stroke-width="1.3" />
<rect x="420.70" y="69.30" width="5.8" height="5.8" fill="none" stroke-width="0.9"/>
<line x1="434.90" y1="85.20" x2="459.90" y2="85.20" stroke-width="1.4" />
<line x1="434.90" y1="81.60" x2="434.90" y2="88.80" stroke-width="1.3" />
<line x1="459.90" y1="81.60" x2="459.90" y2="88.80" stroke-width="1.3" />
<line x1="448.40" y1="76.90" x2="448.40" y2="96.30" stroke-width="1.4" />
<line x1="444.80" y1="76.90" x2="452.00" y2="76.90" stroke-width="1.3" />
<line x1="444.80" y1="96.30" x2="452.00" y2="96.30" stroke-width="1.3" />
<rect x="445.50" y="82.30" width="5.8" height="5.8" fill="none" stroke-width="0.9"/>
<line x1="459.90" y1="92.10" x2="485.20" y2="92.10" stroke-width="1.4" />
<line x1="459.90" y1="88.50" x2="459.90" y2="95.70" stroke-width="1.3" />
<line x1="485.20" y1="88.50" x2="485.20" y2="95.70" stroke-width="1.3" />
<line x1="473.20" y1="86.60" x2="473.20" y2="98.80" stroke-width="1.4" />
<line x1="469.60" y1="86.60" x2="476.80" y2="86.60" stroke-width="1.3" />
<line x1="469.60" y1="98.80" x2="476.80" y2="98.80" stroke-width="1.3" />
<rect x="470.30" y="89.20" width="5.8" height="5.8" fill="none" stroke-width="0.9"/>
<line x1="485.20" y1="113.20" x2="509.90" y2="113.20" stroke-width="1.4" />
<line x1="485.20" y1="109.60" x2="485.20" y2="116.80" stroke-width="1.3" />
<line x1="509.90" y1="109.60" x2="509.90" y2="116.80" stroke-width="1.3" />
<line x1="498.50" y1="104.60" x2="498.50" y2="122.30" stroke-width="1.4" />
<line x1="494.90" y1="104.60" x2="502.10" y2="104.60" stroke-width="1.3" />
<line x1="494.90" y1="122.30" x2="502.10" y2="122.30" stroke-width="1.3" />
<rect x="495.60" y="110.30" width="5.8" height="5.8" fill="none" stroke-width="0.9"/>
<line x1="509.90" y1="137.00" x2="534.80" y2="137.00" stroke-width="1.4" />
<line x1="509.90" y1="133.40" x2="509.90" y2="140.60" stroke-width="1.3" />
<line x1="534.80" y1="133.40" x2="534.80" y2="140.60" stroke-width="1.3" />
<line x1="523.60" y1="128.20" x2="523.60" y2="147.30" stroke-width="1.4" />
<line x1="520.00" y1="128.20" x2="527.20" y2="128.20" stroke-width="1.3" />
<line x1="520.00" y1="147.30" x2="527.20" y2="147.30" stroke-width="1.3" />
<rect x="520.70" y="134.10" width="5.8" height="5.8" fill="none" stroke-width="0.9"/>
<line x1="534.80" y1="139.70" x2="559.80" y2="139.70" stroke-width="1.4" />
<line x1="534.80" y1="136.10" x2="534.80" y2="143.30" stroke-width="1.3" />
<line x1="559.80" y1="136.10" x2="559.80" y2="143.30" stroke-width="1.3" />
<line x1="548.60" y1="133.60" x2="548.60" y2="146.50" stroke-width="1.4" />
<line x1="545.00" y1="133.60" x2="552.20" y2="133.60" stroke-width="1.3" />
<line x1="545.00" y1="146.50" x2="552.20" y2="146.50" stroke-width="1.3" />
<rect x="545.70" y="136.80" width="5.8" height="5.8" fill="none" stroke-width="0.9"/>
<line x1="559.80" y1="148.50" x2="584.80" y2="148.50" stroke-width="1.4" />
<line x1="559.80" y1="144.90" x2="559.80" y2="152.10" stroke-width="1.3" />
<line x1="584.80" y1="144.90" x2="584.80" y2="152.10" stroke-width="1.3" />
<line x1="573.60" y1="142.60" x2="573.60" y2="155.10" stroke-width="1.4" />
<line x1="570.00" y1="142.60" x2="577.20" y2="142.60" stroke-width="1.3" />
<line x1="570.00" y1="155.10" x2="577.20" y2="155.10" stroke-width="1.3" />
<rect x="570.70" y="145.60" width="5.8" height="5.8" fill="none" stroke-width="0.9"/>
<line x1="584.80" y1="180.20" x2="609.70" y2="180.20" stroke-width="1.4" />
<line x1="584.80" y1="176.60" x2="584.80" y2="183.80" stroke-width="1.3" />
<line x1="609.70" y1="176.60" x2="609.70" y2="183.80" stroke-width="1.3" />
<line x1="598.70" y1="172.00" x2="598.70" y2="192.00" stroke-width="1.4" />
<line x1="595.10" y1="172.00" x2="602.30" y2="172.00" stroke-width="1.3" />
<line x1="595.10" y1="192.00" x2="602.30" y2="192.00" stroke-width="1.3" />
<rect x="595.80" y="177.30" width="5.8" height="5.8" fill="none" stroke-width="0.9"/>
<line x1="609.70" y1="191.70" x2="634.60" y2="191.70" stroke-width="1.4" />
<line x1="609.70" y1="188.10" x2="609.70" y2="195.30" stroke-width="1.3" />
<line x1="634.60" y1="188.10" x2="634.60" y2="195.30" stroke-width="1.3" />
<line x1="623.50" y1="181.60" x2="623.50" y2="204.20" stroke-width="1.4" />
<line x1="619.90" y1="181.60" x2="627.10" y2="181.60" stroke-width="1.3" />
<line x1="619.90" y1="204.20" x2="627.10" y2="204.20" stroke-width="1.3" />
<rect x="620.60" y="188.80" width="5.8" height="5.8" fill="none" stroke-width="0.9"/>
<line x1="634.60" y1="217.00" x2="659.60" y2="217.00" stroke-width="1.4" />
<line x1="634.60" y1="213.40" x2="634.60" y2="220.60" stroke-width="1.3" />
<line x1="659.60" y1="213.40" x2="659.60" y2="220.60" stroke-width="1.3" />
<line x1="648.40" y1="195.60" x2="648.40" y2="268.20" stroke-width="1.4" />
<line x1="644.80" y1="195.60" x2="652.00" y2="195.60" stroke-width="1.3" />
<line x1="644.80" y1="268.20" x2="652.00" y2="268.20" stroke-width="1.3" />
<rect x="645.50" y="214.10" width="5.8" height="5.8" fill="none" stroke-width="0.9"/>
<line x1="409.90" y1="328.00" x2="434.90" y2="328.00" stroke-width="1.4" />
<line x1="434.90" y1="324.40" x2="434.90" y2="331.60" stroke-width="1.3" />
<line x1="423.60" y1="306.60" x2="423.60" y2="349.30" stroke-width="1.4" />
<line x1="420.00" y1="306.60" x2="427.20" y2="306.60" stroke-width="1.3" />
<line x1="420.00" y1="349.30" x2="427.20" y2="349.30" stroke-width="1.3" />
<rect x="420.70" y="325.10" width="5.8" height="5.8" fill="none" stroke-width="0.9"/>
<line x1="434.90" y1="340.50" x2="459.90" y2="340.50" stroke-width="1.4" />
<line x1="434.90" y1="336.90" x2="434.90" y2="344.10" stroke-width="1.3" />
<line x1="459.90" y1="336.90" x2="459.90" y2="344.10" stroke-width="1.3" />
<line x1="448.50" y1="331.60" x2="448.50" y2="349.30" stroke-width="1.4" />
<line x1="444.90" y1="331.60" x2="452.10" y2="331.60" stroke-width="1.3" />
<line x1="444.90" y1="349.30" x2="452.10" y2="349.30" stroke-width="1.3" />
<rect x="445.60" y="337.60" width="5.8" height="5.8" fill="none" stroke-width="0.9"/>
<line x1="459.90" y1="344.90" x2="485.20" y2="344.90" stroke-width="1.4" />
<line x1="459.90" y1="341.30" x2="459.90" y2="348.50" stroke-width="1.3" />
<line x1="485.20" y1="341.30" x2="485.20" y2="348.50" stroke-width="1.3" />
<line x1="473.40" y1="340.50" x2="473.40" y2="350.20" stroke-width="1.4" />
<line x1="469.80" y1="340.50" x2="477.00" y2="340.50" stroke-width="1.3" />
<line x1="469.80" y1="350.20" x2="477.00" y2="350.20" stroke-width="1.3" />
<rect x="470.50" y="342.00" width="5.8" height="5.8" fill="none" stroke-width="0.9"/>
<line x1="485.20" y1="350.70" x2="509.90" y2="350.70" stroke-width="1.4" />
<line x1="485.20" y1="347.10" x2="485.20" y2="354.30" stroke-width="1.3" />
<line x1="509.90" y1="347.10" x2="509.90" y2="354.30" stroke-width="1.3" />
<line x1="498.60" y1="346.60" x2="498.60" y2="354.30" stroke-width="1.4" />
<line x1="495.00" y1="346.60" x2="502.20" y2="346.60" stroke-width="1.3" />
<line x1="495.00" y1="354.30" x2="502.20" y2="354.30" stroke-width="1.3" />
<rect x="495.70" y="347.80" width="5.8" height="5.8" fill="none" stroke-width="0.9"/>
<line x1="509.90" y1="348.20" x2="534.80" y2="348.20" stroke-width="1.4" />
<line x1="509.90" y1="344.60" x2="509.90" y2="351.80" stroke-width="1.3" />
<line x1="534.80" y1="344.60" x2="534.80" y2="351.80" stroke-width="1.3" />
<line x1="523.50" y1="345.50" x2="523.50" y2="351.00" stroke-width="1.4" />
<line x1="519.90" y1="345.50" x2="527.10" y2="345.50" stroke-width="1.3" />
<line x1="519.90" y1="351.00" x2="527.10" y2="351.00" stroke-width="1.3" />
<rect x="520.60" y="345.30" width="5.8" height="5.8" fill="none" stroke-width="0.9"/>
<line x1="534.80" y1="347.20" x2="559.80" y2="347.20" stroke-width="1.4" />
<line x1="534.80" y1="343.60" x2="534.80" y2="350.80" stroke-width="1.3" />
<line x1="559.80" y1="343.60" x2="559.80" y2="350.80" stroke-width="1.3" />
<line x1="548.50" y1="345.20" x2="548.50" y2="349.20" stroke-width="1.4" />
<line x1="544.90" y1="345.20" x2="552.10" y2="345.20" stroke-width="1.3" />
<line x1="544.90" y1="349.20" x2="552.10" y2="349.20" stroke-width="1.3" />
<rect x="545.60" y="344.30" width="5.8" height="5.8" fill="none" stroke-width="0.9"/>
<line x1="559.80" y1="346.50" x2="584.80" y2="346.50" stroke-width="1.4" />
<line x1="559.80" y1="342.90" x2="559.80" y2="350.10" stroke-width="1.3" />
<line x1="584.80" y1="342.90" x2="584.80" y2="350.10" stroke-width="1.3" />
<line x1="573.50" y1="344.70" x2="573.50" y2="348.30" stroke-width="1.4" />
<line x1="569.90" y1="344.70" x2="577.10" y2="344.70" stroke-width="1.3" />
<line x1="569.90" y1="348.30" x2="577.10" y2="348.30" stroke-width="1.3" />
<rect x="570.60" y="343.60" width="5.8" height="5.8" fill="none" stroke-width="0.9"/>
<line x1="584.80" y1="346.10" x2="609.70" y2="346.10" stroke-width="1.4" />
<line x1="584.80" y1="342.50" x2="584.80" y2="349.70" stroke-width="1.3" />
<line x1="609.70" y1="342.50" x2="609.70" y2="349.70" stroke-width="1.3" />
<line x1="598.60" y1="344.60" x2="598.60" y2="347.60" stroke-width="1.4" />
<line x1="595.00" y1="344.60" x2="602.20" y2="344.60" stroke-width="1.3" />
<line x1="595.00" y1="347.60" x2="602.20" y2="347.60" stroke-width="1.3" />
<rect x="595.70" y="343.20" width="5.8" height="5.8" fill="none" stroke-width="0.9"/>
<line x1="609.70" y1="345.60" x2="634.60" y2="345.60" stroke-width="1.4" />
<line x1="609.70" y1="342.00" x2="609.70" y2="349.20" stroke-width="1.3" />
<line x1="634.60" y1="342.00" x2="634.60" y2="349.20" stroke-width="1.3" />
<line x1="623.60" y1="344.30" x2="623.60" y2="346.90" stroke-width="1.4" />
<line x1="620.00" y1="344.30" x2="627.20" y2="344.30" stroke-width="1.3" />
<line x1="620.00" y1="346.90" x2="627.20" y2="346.90" stroke-width="1.3" />
<rect x="620.70" y="342.70" width="5.8" height="5.8" fill="none" stroke-width="0.9"/>
<line x1="634.60" y1="345.40" x2="659.60" y2="345.40" stroke-width="1.4" />
<line x1="634.60" y1="341.80" x2="634.60" y2="349.00" stroke-width="1.3" />
<line x1="659.60" y1="341.80" x2="659.60" y2="349.00" stroke-width="1.3" />
<line x1="648.30" y1="344.20" x2="648.30" y2="346.60" stroke-width="1.4" />
<line x1="644.70" y1="344.20" x2="651.90" y2="344.20" stroke-width="1.3" />
<line x1="644.70" y1="346.60" x2="651.90" y2="346.60" stroke-width="1.3" />
<rect x="645.40" y="342.50" width="5.8" height="5.8" fill="none" stroke-width="0.9"/>
<line x1="580.40" y1="66.70" x2="625.80" y2="66.70" stroke-width="1.5" />
<line x1="580.40" y1="81.80" x2="586.40" y2="81.80" stroke-width="1.5" />
<line x1="594.80" y1="81.80" x2="605.60" y2="81.80" stroke-width="1.5" />
<line x1="614.00" y1="81.80" x2="624.90" y2="81.80" stroke-width="1.5" />
</svg>
</body></html>
